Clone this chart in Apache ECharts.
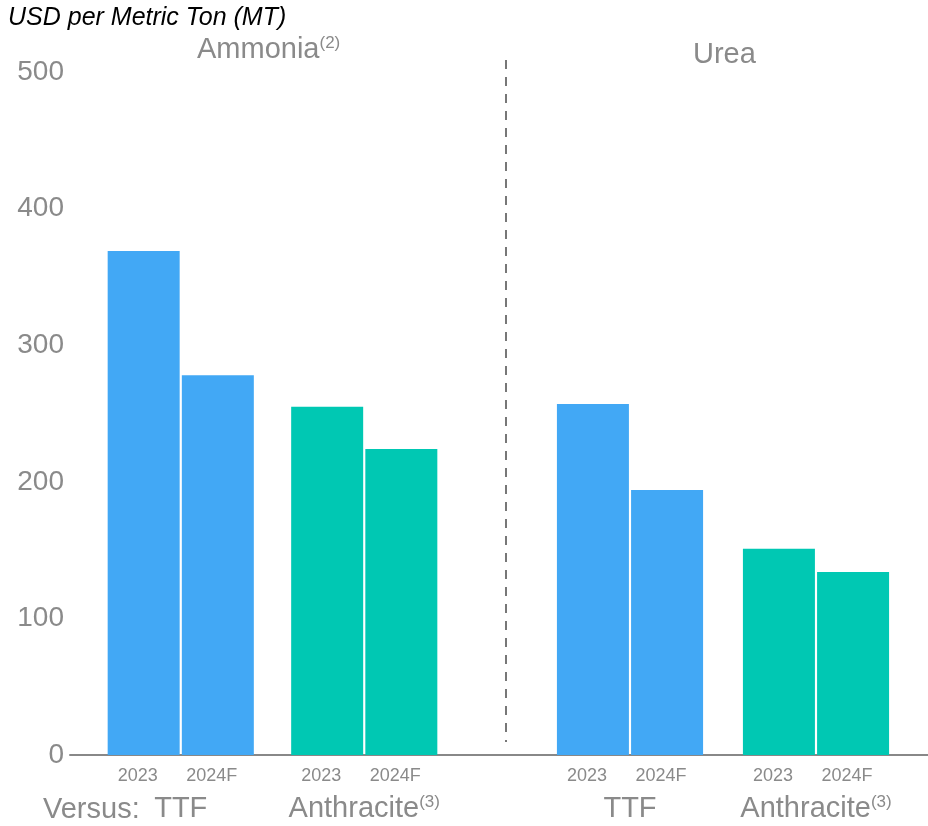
<!DOCTYPE html>
<html>
<head>
<meta charset="utf-8">
<script src="https://cdn.jsdelivr.net/npm/echarts@6/dist/echarts.min.js"></script>
<style>
  html, body { margin: 0; padding: 0; background: #ffffff; }
  #chart { width: 928px; height: 826px; }
</style>
</head>
<body>
<div id="chart"></div>
<script>
// Cost per metric ton, by product and by the feedstock it is compared against
const versusCategories = ['TTF', 'Anthracite'];
const yearNames = ['2023', '2024F'];
const ammonia2023 = [369, 255];
const ammonia2024F = [278, 224];
const urea2023 = [257, 151];
const urea2024F = [194, 134];
const yTicks = [0, 100, 200, 300, 400, 500];

const FONT = '"Liberation Sans", Arial, Helvetica, sans-serif';
const GRAY = '#8a8a8a';
const categoryColors = ['#42a8f5', '#00c8b3'];

const yMin = yTicks[0];
const yMax = yTicks[yTicks.length - 1];
const yStep = yTicks[1] - yTicks[0];

const plotTop = 72;
const plotBottom = 71;

const supStyle = { fontSize: 17, color: GRAY, fontFamily: FONT, verticalAlign: 'top', padding: [0, 0, 12, 0] };

const catLabel = {
  show: true,
  interval: 0,
  margin: 39,
  color: GRAY,
  fontFamily: FONT,
  fontSize: 29,
  formatter: function (v) {
    return v === 'Anthracite' ? 'Anthracite{sup|(3)}' : v;
  },
  rich: { sup: supStyle }
};

function groupAxis(gridIndex) {
  return {
    type: 'category',
    gridIndex: gridIndex,
    data: versusCategories,
    axisLine: { show: false },
    axisTick: { show: false },
    axisLabel: catLabel
  };
}

function hiddenY(gridIndex) {
  return {
    type: 'value', gridIndex: gridIndex, min: yMin, max: yMax, interval: yStep,
    show: false, splitLine: { show: false }
  };
}

function barSeries(name, values, axisIndex) {
  return {
    type: 'bar',
    name: name,
    xAxisIndex: axisIndex,
    yAxisIndex: axisIndex,
    barWidth: 72,
    barGap: '3%',
    data: values.map(function (v, i) {
      return { value: v, itemStyle: { color: categoryColors[i] } };
    }),
    label: {
      show: true,
      position: 'bottom',
      distance: 12,
      offset: [-6, 0],
      formatter: name,
      color: GRAY,
      fontFamily: FONT,
      fontSize: 18
    },
    emphasis: { disabled: true }
  };
}

const chart = echarts.init(document.getElementById('chart'), null, { renderer: 'canvas' });

chart.setOption({
  animation: false,
  backgroundColor: '#ffffff',
  textStyle: { fontFamily: FONT },
  title: [
    {
      text: 'USD per Metric Ton (MT)',
      left: 3, top: 1,
      textStyle: { fontFamily: FONT, fontSize: 25, fontStyle: 'italic', fontWeight: 'normal', color: '#000000' }
    },
    {
      text: 'Ammonia{sup|(2)}',
      left: 192, top: 30,
      textStyle: {
        fontFamily: FONT, fontSize: 29, fontWeight: 'normal', color: GRAY,
        rich: { sup: supStyle }
      }
    },
    {
      text: 'Urea',
      left: 688, top: 35,
      textStyle: { fontFamily: FONT, fontSize: 29, fontWeight: 'normal', color: GRAY }
    }
  ],
  grid: [
    { left: 70, right: 0, top: plotTop, bottom: plotBottom },
    { left: 89, width: 367, top: plotTop, bottom: plotBottom },
    { left: 537, width: 372, top: plotTop, bottom: plotBottom }
  ],
  xAxis: [
    {
      type: 'category', gridIndex: 0, data: [],
      axisLine: { show: true, lineStyle: { color: '#888888', width: 2 } },
      axisTick: { show: false }, axisLabel: { show: false }
    },
    groupAxis(1),
    groupAxis(2)
  ],
  yAxis: [
    {
      type: 'value', gridIndex: 0, min: yMin, max: yMax, interval: yStep,
      axisLine: { show: false }, axisTick: { show: false }, splitLine: { show: false },
      axisLabel: { color: GRAY, fontFamily: FONT, fontSize: 28, margin: 6 }
    },
    hiddenY(1),
    hiddenY(2)
  ],
  series: [
    barSeries(yearNames[0], ammonia2023, 1),
    barSeries(yearNames[1], ammonia2024F, 1),
    barSeries(yearNames[0], urea2023, 2),
    barSeries(yearNames[1], urea2024F, 2)
  ],
  graphic: [
    {
      type: 'line',
      shape: { x1: 506, y1: 60, x2: 506, y2: 742 },
      style: { stroke: '#777777', lineWidth: 2, lineDash: [9, 8] },
      silent: true
    },
    {
      type: 'text',
      left: 43, top: 795,
      style: { text: 'Versus:', fill: GRAY, font: '29px ' + FONT },
      silent: true
    }
  ]
});
</script>
</body>
</html>
